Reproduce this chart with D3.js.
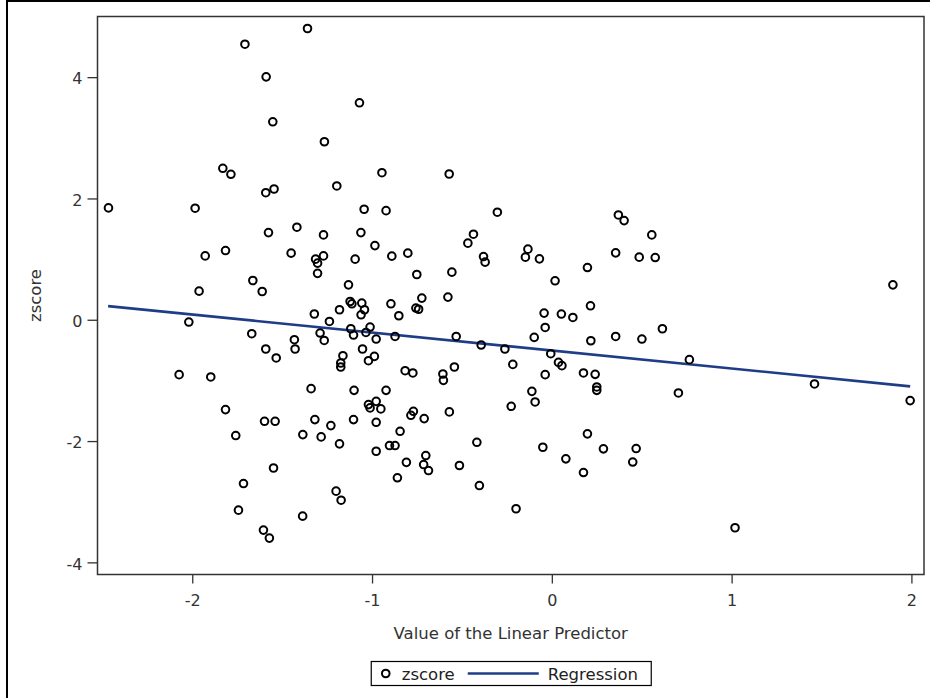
<!DOCTYPE html>
<html lang="en">
<head>
<meta charset="UTF-8">
<title>zscore vs Value of the Linear Predictor</title>
<script src="https://d3js.org/d3.v7.min.js"></script>
<style>
    body {
        margin: 0;
        background: #fff;
        font-family: "DejaVu Sans", sans-serif;
    }
    .axis path { display: none; }
    .axis line { stroke: #333; stroke-width: 1.3; }
    .axis text { fill: #333; font-size: 16px; font-family: "DejaVu Sans", sans-serif; }
    .label { fill: #333; font-size: 16.5px; }
    .legend text { fill: #222; font-size: 16.5px; }
</style>
</head>
<body>
<div id="chart"></div>
<script>
// values
var predX = [
    -1.359, -1.707, -1.589, -1.552, -1.070, -1.265, -1.830, -1.785, -1.591, -1.545,
    -2.466, -1.984, -0.945, -0.571, -1.196, -1.044, -0.922, -0.303, 0.370, 0.402,
    0.556, -1.576, -1.418, -1.270, -1.062, -0.436, -0.467, -0.984, -1.928, -1.815,
    -1.450, -1.314, -1.270, -1.303, -1.303, -1.094, -0.890, -0.801, -0.751, -0.556,
    -0.380, -0.371, -0.133, -0.147, -0.069, 0.018, 0.198, 0.355, 0.486, 0.575,
    1.897, -1.663, -1.611, -1.962, -1.131, -1.122, -1.112, -1.057, -1.042, -1.061,
    -1.181, -1.321, -1.237, -0.895, -0.851, -0.723, -0.756, -0.741, -0.578, -1.289,
    -1.266, -1.118, -1.103, -1.011, -1.034, -0.977, -0.872, -0.532, -0.393, -0.261,
    -0.043, 0.053, 0.117, -0.037, -0.098, 0.215, 0.217, 0.355, 0.501, 0.615,
    0.765, 0.704, 1.461, 1.993, -0.006, 0.037, 0.056, -0.217, -0.037, 0.176,
    0.241, 0.250, 0.250, -1.053, -1.162, -1.174, -1.174, -0.987, -1.020, -0.816,
    -0.773, -0.606, -0.603, -0.542, -1.339, -1.100, -0.922, -0.977, -1.020, -1.011,
    -0.951, -0.111, -0.093, -0.226, -0.570, -0.770, -0.784, -0.710, -1.318, -1.229,
    -1.103, -0.977, -0.844, -1.385, -1.283, -1.181, -0.903, -0.872, -0.977, -0.417,
    0.198, -0.050, 0.287, 0.078, -0.809, -0.701, -0.713, -0.686, -0.514, 0.176,
    -0.859, -0.403, -0.199, -1.200, -1.172, -1.386, -1.548, -1.715, -1.743, -1.604,
    -1.571, 0.450, 0.469, 1.019, -2.019, -1.669, -1.432, -1.428, -1.591, -1.533,
    -2.073, -1.897, -1.815, -1.598, -1.539, -1.758
];
var zscore = [
    4.802, 4.543, 4.005, 3.264, 3.577, 2.935, 2.497, 2.398, 2.095, 2.156,
    1.844, 1.839, 2.425, 2.403, 2.206, 1.822, 1.799, 1.773, 1.728, 1.635,
    1.399, 1.437, 1.526, 1.399, 1.437, 1.411, 1.263, 1.223, 1.053, 1.141,
    1.098, 0.999, 1.053, 0.933, 0.765, 0.999, 1.049, 1.098, 0.746, 0.785,
    1.042, 0.950, 1.164, 1.032, 1.004, 0.642, 0.861, 1.103, 1.032, 1.026,
    0.576, 0.647, 0.466, 0.472, 0.576, 0.301, 0.263, 0.275, 0.165, 0.082,
    0.165, 0.095, -0.028, 0.263, 0.066, 0.357, 0.193, 0.173, 0.374, -0.219,
    -0.341, -0.148, -0.252, -0.120, -0.209, -0.318, -0.275, -0.275, -0.416, -0.482,
    0.110, 0.094, 0.038, -0.127, -0.291, 0.230, -0.346, -0.275, -0.318, -0.148,
    -0.658, -1.207, -1.058, -1.333, -0.560, -0.703, -0.757, -0.736, -0.905, -0.877,
    -0.900, -1.108, -1.164, -0.482, -0.593, -0.713, -0.779, -0.604, -0.675, -0.840,
    -0.877, -0.894, -0.999, -0.779, -1.136, -1.164, -1.164, -1.345, -1.399, -1.453,
    -1.470, -1.180, -1.355, -1.427, -1.519, -1.509, -1.575, -1.630, -1.646, -1.745,
    -1.646, -1.691, -1.839, -1.893, -1.931, -2.046, -2.074, -2.074, -2.168, -2.020,
    -1.881, -2.102, -2.128, -2.293, -2.351, -2.239, -2.387, -2.486, -2.403, -2.519,
    -2.606, -2.733, -3.116, -2.826, -2.975, -3.238, -2.444, -2.700, -3.139, -3.468,
    -3.600, -2.346, -2.123, -3.429, -0.038, -0.230, -0.329, -0.482, -0.482, -0.630,
    -0.905, -0.943, -1.481, -1.674, -1.674, -1.909
];
// fitted regression line, ends at the data extent
var regX = [-2.468, 1.993];
var regY = [0.225, -1.098];

var xTicks = [-2, -1, 0, 1, 2];
var yTicks = [-4, -2, 0, 2, 4];
var xTitle = "Value of the Linear Predictor";
var yTitle = "zscore";
var legendLabels = ["zscore", "Regression"];

var width = 930;
var height = 698;
var margin = { top: 16.5, right: 6, bottom: 123, left: 97.5 };
var lineColor = "#1f3d87";

// plain hyphen for negatives, like the original
var fmt = function(d) { return String(d); };

var svg = d3.select("#chart")
    .append("svg")
    .attr("width", width)
    .attr("height", height);

// outer frame of the graph
svg.append("rect")
    .attr("x", 7)
    .attr("y", 1)
    .attr("width", 940)
    .attr("height", 720)
    .attr("fill", "none")
    .attr("stroke", "#000")
    .attr("stroke-width", 2);

var x = d3.scaleLinear()
    .domain([-2.527, 2.07])
    .range([margin.left, width - margin.right]);

var y = d3.scaleLinear()
    .domain([-4.2, 5.0])
    .range([height - margin.bottom - 0.5, margin.top]);

var points = predX.map(function(d, i) { return { x: d, y: zscore[i] }; });
var reg = regX.map(function(d, i) { return { x: d, y: regY[i] }; });

// axes
svg.append("g")
    .attr("class", "axis")
    .attr("transform", "translate(0," + y.range()[0] + ")")
    .call(d3.axisBottom(x).tickValues(xTicks).tickSize(9).tickPadding(11).tickFormat(fmt));

svg.append("g")
    .attr("class", "axis")
    .attr("transform", "translate(" + margin.left + ",0)")
    .call(d3.axisLeft(y).tickValues(yTicks).tickSize(10).tickPadding(5).tickFormat(fmt))
    .selectAll("text")
    .attr("dy", "0.42em");

// plot wall
svg.append("rect")
    .attr("x", margin.left)
    .attr("y", margin.top)
    .attr("width", x.range()[1] - margin.left)
    .attr("height", y.range()[0] - margin.top)
    .attr("fill", "none")
    .attr("stroke", "#333")
    .attr("stroke-width", 1.5);

// regression line
var line = d3.line()
    .x(function(d) { return x(d.x); })
    .y(function(d) { return y(d.y); });

svg.append("path")
    .datum(reg)
    .attr("d", line)
    .attr("fill", "none")
    .attr("stroke", lineColor)
    .attr("stroke-width", 2.6);

// scatter
svg.append("g")
    .selectAll("circle")
    .data(points)
    .enter().append("circle")
    .attr("cx", function(d) { return x(d.x); })
    .attr("cy", function(d) { return y(d.y); })
    .attr("r", 3.8)
    .attr("fill", "none")
    .attr("stroke", "#000")
    .attr("stroke-width", 2);

// axis titles
var midX = (x.range()[0] + x.range()[1]) / 2;
var midY = (y.range()[0] + y.range()[1]) / 2;

svg.append("text")
    .attr("class", "label")
    .attr("x", midX)
    .attr("y", 638.5)
    .attr("text-anchor", "middle")
    .text(xTitle);

svg.append("text")
    .attr("class", "label")
    .attr("transform", "translate(40.5," + midY + ") rotate(-90)")
    .attr("text-anchor", "middle")
    .text(yTitle);

// legend
var legend = svg.append("g")
    .attr("class", "legend")
    .attr("transform", "translate(" + (midX - 140) + ",661)");

legend.append("rect")
    .attr("x", 0.5)
    .attr("y", 0.5)
    .attr("width", 280)
    .attr("height", 24)
    .attr("fill", "#fff")
    .attr("stroke", "#000")
    .attr("stroke-width", 1.2);

legend.append("circle")
    .attr("cx", 15)
    .attr("cy", 12.5)
    .attr("r", 3.8)
    .attr("fill", "none")
    .attr("stroke", "#000")
    .attr("stroke-width", 2);

legend.append("text")
    .attr("x", 31)
    .attr("y", 18.5)
    .text(legendLabels[0]);

legend.append("line")
    .attr("x1", 97)
    .attr("x2", 168)
    .attr("y1", 12.5)
    .attr("y2", 12.5)
    .attr("stroke", lineColor)
    .attr("stroke-width", 2.6);

legend.append("text")
    .attr("x", 177)
    .attr("y", 18.5)
    .text(legendLabels[1]);
</script>
</body>
</html>
